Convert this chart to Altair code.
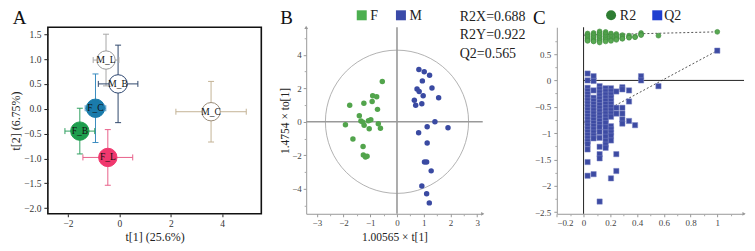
import altair as alt
import pandas as pd

FONT = "Liberation Serif"

# ---------------- Panel A data ----------------
A_GROUPS = ["M_L", "M_B", "F_C", "F_B", "F_L", "M_C"]
A_X = [-0.52, -0.05, -0.93, -1.54, -0.45, 3.57]
A_Y = [0.98, 0.50, 0.01, -0.45, -0.98, -0.06]
A_EX = [0.50, 0.77, 0.40, 0.58, 0.97, 1.37]
A_EY = [0.52, 0.78, 0.69, 0.46, 0.56, 0.61]
A_FILL = ["#ffffff", "#ffffff", "#1a7bab", "#1e9e4e", "#f0386e", "#ffffff"]
A_STROKE = ["#9a9a9a", "#2d4670", "#1a7bab", "#1e9e4e", "#f0386e", "#9a8c78"]
A_BAR = ["#a8a8a8", "#30486c", "#3a8cc0", "#30a060", "#e8608a", "#c4b496"]

# ---------------- Panel B data ----------------
F_X = [-0.55, -0.91, -0.76, -0.93, -1.24, -1.77, -0.73, -1.41, -1.35, -1.28, -1.07,
       -0.98, -1.23, -1.93, -0.70, -1.04, -0.62, -1.65, -1.27, -1.26, -1.18, -1.12]
F_Y = [2.40, 1.55, 1.49, 1.21, 1.11, 0.98, 0.74, 0.36, 0.04, -0.02, 0.06,
       0.12, -0.21, -0.18, -0.12, -0.42, -0.39, -1.03, -1.47, -1.98, -2.10, -2.06]
M_X = [0.82, 1.02, 1.22, 0.95, 1.31, 0.75, 0.83, 0.98, 1.56, 0.65, 0.93, 0.70,
       1.42, 1.13, 1.91, 0.81, 1.13, 1.03, 1.11, 1.28, 0.93, 1.11, 1.21]
M_Y = [3.12, 2.98, 2.78, 2.44, 2.02, 1.95, 1.81, 1.55, 1.43, 1.29, 1.07, 0.98,
       0.0, -0.30, -0.36, -0.65, -1.27, -2.40, -2.40, -2.93, -3.83, -4.29, -4.84]
STATS = ["R2X=0.688", "R2Y=0.922", "Q2=0.565"]
B_MINOR_X = [-2.5, -1.5, -0.5, 0.5, 1.5, 2.5]
B_MINOR_Y = [-5, -3, -1, 1, 3, 5]

# ---------------- Panel C data ----------------
C_X = [0.03, 0.075, 0.12, 0.165, 0.205, 0.245, 0.29, 0.34, 0.385, 0.43, 0.56, 1.0]
R2_COLS = [
    [0.89, 0.86, 0.83, 0.80, 0.77, 0.75],
    [0.90, 0.87, 0.84, 0.81, 0.78, 0.75, 0.74],
    [0.93, 0.90, 0.87, 0.84, 0.81, 0.78, 0.75, 0.72],
    [0.92, 0.89, 0.86, 0.83, 0.80, 0.77, 0.74],
    [0.89, 0.86, 0.83, 0.80, 0.77, 0.75],
    [0.88, 0.85, 0.82, 0.79, 0.77],
    [0.86, 0.83, 0.80, 0.79],
    [0.85, 0.82, 0.81],
    [0.83, 0.82],
    [0.90, 0.87, 0.86],
    [0.85],
    [0.922],
]
Q2_COLS = [
    [0.13, 0.0, -0.14, -0.2, -0.26, -0.32, -0.38, -0.44, -0.5, -0.56, -0.62, -0.68,
     -0.74, -0.8, -0.86, -0.92, -0.98, -1.04, -1.1, -1.16, -1.21, -1.31, -1.55, -1.81],
    [0.08, -0.01, -0.19, -0.33, -0.39, -0.45, -0.51, -0.57, -0.63, -0.69, -0.75,
     -0.81, -0.87, -0.93, -0.99, -1.05, -1.1, -1.78],
    [-0.11, -0.17, -0.23, -0.29, -0.35, -0.41, -0.47, -0.53, -0.59, -0.65, -0.71,
     -0.77, -0.83, -0.89, -0.98, -1.09, -1.26, -1.40, -1.48, -2.30],
    [-0.15, -0.21, -0.27, -0.33, -0.39, -0.45, -0.51, -0.57, -0.63, -0.69, -0.75,
     -0.81, -0.89, -0.99, -1.07, -1.15, -1.22, -1.28],
    [-0.15, -0.21, -0.27, -0.33, -0.39, -0.45, -0.51, -0.57, -0.63, -0.69, -0.87,
     -0.93, -0.99, -1.05, -1.14, -1.86],
    [-0.21, -0.52, -0.63, -1.40, -1.72],
    [-0.13, -0.17, -0.52, -0.63, -0.74, -0.82],
    [-0.19, -0.40, -0.77],
    [-0.85],
    [0.08, 0.0],
    [-0.11],
    [0.565],
]
REG_X = [0.0, 1.0]
R2_LINE = [0.86, 0.922]
Q2_LINE = [-0.80, 0.565]
C_MINOR_X = [-0.1, 0.1, 0.3, 0.5, 0.7, 0.9, 1.1]
C_MINOR_Y = [-2.25, -1.75, -1.25, -0.75, -0.25, 0.25, 0.75]

H = 187
one = pd.DataFrame({"k": [0]})

# ================= Panel A =================
W_A = 214
dfA = pd.DataFrame({"g": A_GROUPS, "cx": A_X, "cy": A_Y, "ex": A_EX, "ey": A_EY})
dfA["xlo"] = dfA.cx - dfA.ex
dfA["xhi"] = dfA.cx + dfA.ex
dfA["ylo"] = dfA.cy - dfA.ey
dfA["yhi"] = dfA.cy + dfA.ey

xsA = alt.Scale(domain=[-2.784, 5.526], nice=False, zero=False)
ysA = alt.Scale(domain=[-2.114, 1.64], nice=False, zero=False)
barScale = alt.Scale(domain=A_GROUPS, range=A_BAR)
fillScale = alt.Scale(domain=A_GROUPS, range=A_FILL)
strokeScale = alt.Scale(domain=A_GROUPS, range=A_STROKE)

axA_x = alt.Axis(values=[-2, 0, 2, 4], format="d", title="t[1] (25.6%)", domain=False,
                 tickColor="#222", tickSize=3, labelPadding=2, titlePadding=3,
                 labelFontSize=9.5, titleFontSize=12, labelColor="#333", titleColor="#222")
axA_y = alt.Axis(values=[-2, -1.5, -1, -0.5, 0, 0.5, 1, 1.5], format=".1f", title="t[2] (6.75%)",
                 domain=False, tickColor="#222", tickSize=4, labelPadding=3, titlePadding=1,
                 labelFontSize=9.5, titleFontSize=12, labelColor="#333", titleColor="#222")


def XA(f):
    return alt.X(f"{f}:Q", scale=xsA, axis=axA_x, title="t[1] (25.6%)")


def YA(f):
    return alt.Y(f"{f}:Q", scale=ysA, axis=axA_y, title="t[2] (6.75%)")


baseA = alt.Chart(dfA)
vbars = baseA.mark_rule(strokeWidth=1).encode(
    x=XA("cx"), y=YA("ylo"), y2="yhi:Q",
    color=alt.Color("g:N", scale=barScale, legend=None),
)
hbars = baseA.mark_rule(strokeWidth=1).encode(
    x=XA("xlo"), x2="xhi:Q", y=YA("cy"),
    color=alt.Color("g:N", scale=barScale, legend=None),
)
HCAP = "M -1 0 L 1 0"
VCAP = "M 0 -1 L 0 1"
caps = []
for xf, yf, shp in [("cx", "ylo", HCAP), ("cx", "yhi", HCAP), ("xlo", "cy", VCAP), ("xhi", "cy", VCAP)]:
    caps.append(baseA.mark_point(shape=shp, size=36, filled=False, strokeWidth=1, opacity=1).encode(
        x=XA(xf), y=YA(yf),
        color=alt.Color("g:N", scale=barScale, legend=None),
    ))
circlesA = baseA.mark_circle(size=340, opacity=1, strokeWidth=1).encode(
    x=XA("cx"), y=YA("cy"),
    fill=alt.Fill("g:N", scale=fillScale, legend=None),
    stroke=alt.Stroke("g:N", scale=strokeScale, legend=None),
)
labelsA = baseA.mark_text(font=FONT, fontSize=9.5, color="#111").encode(
    x=XA("cx"), y=YA("cy"), text="g:N",
)
letterA = alt.Chart(one).mark_text(text="A", font=FONT, fontSize=19, align="left",
                                   baseline="alphabetic", color="#111").encode(
    x=alt.value(-35.3), y=alt.value(-3.3))
anchorA = alt.Chart(one).mark_rule(opacity=0, strokeWidth=0).encode(
    x=alt.value(-47), x2=alt.value(-47), y=alt.value(-26), y2=alt.value(-26))

chartA = alt.layer(vbars, hbars, *caps, circlesA, labelsA, letterA, anchorA).properties(
    width=W_A, height=H, view=alt.ViewBackground(stroke="#111", strokeWidth=1.6))

# ================= Panel B =================
W_B = 177
dfB = pd.DataFrame({
    "x": F_X + M_X,
    "y": F_Y + M_Y,
    "grp": ["F"] * len(F_X) + ["M"] * len(M_X),
})
B_XD = [-3.40, 3.21]
B_YD = [-5.49, 5.64]
xsB = alt.Scale(domain=B_XD, nice=False, zero=False)
ysB = alt.Scale(domain=B_YD, nice=False, zero=False)
grpScale = alt.Scale(domain=["F", "M"], range=["#52a44c", "#3a4aa2"])
axB_x = alt.Axis(values=[-3, -2, -1, 0, 1, 2, 3], format="d", title="1.00565 × t[1]", orient="bottom",
                 domainColor="#999", tickColor="#999", tickSize=3, labelPadding=2, titlePadding=4,
                 labelFontSize=9, titleFontSize=11.5, labelColor="#444", titleColor="#222")
axB_y = alt.Axis(values=[-4, -2, 0, 2, 4], format="d", title="1.4754 × to[1]", orient="left",
                 domainColor="#999", tickColor="#999", tickSize=3, labelPadding=2, titlePadding=1,
                 labelFontSize=9, titleFontSize=11.5, labelColor="#444", titleColor="#222")
axB_xm = alt.Axis(values=B_MINOR_X, labels=False, domain=False, title="", orient="bottom",
                  tickColor="#aaa", tickSize=2)
axB_ym = alt.Axis(values=B_MINOR_Y, labels=False, domain=False, title="", orient="left",
                  tickColor="#aaa", tickSize=2)


def XB(f):
    return alt.X(f"{f}:Q", scale=xsB, axis=axB_x, title="1.00565 × t[1]")


def YB(f):
    return alt.Y(f"{f}:Q", scale=ysB, axis=axB_y, title="1.4754 × to[1]")


ellipse = alt.Chart(one).mark_point(shape="circle", size=20612, filled=False,
                                    stroke="#777", strokeWidth=0.8).encode(x=XB("k"), y=YB("k"))
vline = alt.Chart(one).mark_rule(color="#999", strokeWidth=1.6).encode(x=XB("k"))
hline = alt.Chart(one).mark_rule(color="#999", strokeWidth=1.6).encode(y=YB("k"))
ptsB = alt.Chart(dfB).mark_circle(size=30, opacity=1).encode(
    x=XB("x"), y=YB("y"),
    color=alt.Color("grp:N", scale=grpScale, legend=None),
)
dfBarrow = pd.DataFrame({"ax": [B_XD[1], B_XD[0]], "ay": [B_YD[0], B_YD[1]],
                         "sh": ["triangle-right", "triangle-up"]})
arrowsB = alt.Chart(dfBarrow).mark_point(size=14, filled=True, color="#999", opacity=1).encode(
    x=XB("ax"), y=YB("ay"),
    shape=alt.Shape("sh:N", scale=alt.Scale(domain=["triangle-right", "triangle-up"],
                                            range=["triangle-right", "triangle-up"]), legend=None))
legB = []
for lx, lab, colr in [(55.7, "F", "#4caf50"), (95, "M", "#3a4aa8")]:
    legB.append(alt.Chart(one).mark_point(shape="square", size=100, filled=True, color=colr, opacity=1).encode(
        x=alt.value(lx), y=alt.value(-12)))
    legB.append(alt.Chart(one).mark_text(text=lab, font=FONT, fontSize=14, align="left",
                                         baseline="middle", color="#222").encode(
        x=alt.value(lx + 8.5), y=alt.value(-11)))
statsB = alt.Chart(one).mark_text(text=STATS, font=FONT, fontSize=14, align="left",
                                  baseline="alphabetic", lineHeight=18.4, color="#222").encode(
    x=alt.value(154), y=alt.value(-6.4))
letterB = alt.Chart(one).mark_text(text="B", font=FONT, fontSize=19, align="left",
                                   baseline="alphabetic", color="#111").encode(
    x=alt.value(-26), y=alt.value(-3.3))
minorB = alt.Chart(one).mark_point(opacity=0, size=1).encode(
    x=alt.X("k:Q", scale=xsB, axis=axB_xm, title=""),
    y=alt.Y("k:Q", scale=ysB, axis=axB_ym, title=""))

mainB = alt.layer(ellipse, vline, hline, ptsB, arrowsB, *legB, statsB, letterB)
chartB = alt.layer(mainB, minorB).resolve_axis(x="independent", y="independent").properties(
    width=W_B, height=H)

# ================= Panel C =================
W_C = 217
C_OFF = 29.3
C_XD = [-0.2, 1.2]
C_YD = [-2.532, 1.009]
xsC = alt.Scale(domain=C_XD, range=[C_OFF, W_C], nice=False, zero=False)
ysC = alt.Scale(domain=C_YD, nice=False, zero=False)

r2_rows = [(x, v) for x, col in zip(C_X, R2_COLS) for v in col]
q2_rows = [(x, v) for x, col in zip(C_X, Q2_COLS) for v in col]
dfR2 = pd.DataFrame(r2_rows, columns=["x", "v"])
dfQ2 = pd.DataFrame(q2_rows, columns=["x", "v"])
dfReg = pd.DataFrame({"x": REG_X * 2, "v": R2_LINE + Q2_LINE, "s": ["R2"] * 2 + ["Q2"] * 2})
dfCaxes = pd.DataFrame({"x0": [0.0], "x1": [C_XD[1]], "y0": [0.0],
                        "xa": [C_XD[1]], "ya": [C_YD[0]]})

axC_x = alt.Axis(values=[-0.2, 0, 0.2, 0.4, 0.6, 0.8, 1], format="~g", title="", orient="bottom",
                 domainColor="#999", tickColor="#999", tickSize=3, labelPadding=2,
                 labelFontSize=9, labelColor="#444")
axC_y = alt.Axis(values=[-2.5, -2, -1.5, -1, -0.5, 0, 0.5], format="~g", title="", offset=-C_OFF,
                 orient="left", domainColor="#999", tickColor="#999", tickSize=3, labelPadding=3,
                 labelFontSize=9, labelColor="#444")
axC_xm = alt.Axis(values=C_MINOR_X, labels=False, domain=False, title="", orient="bottom",
                  tickColor="#aaa", tickSize=2)
axC_ym = alt.Axis(values=C_MINOR_Y, labels=False, domain=False, title="", orient="left",
                  offset=-C_OFF, tickColor="#aaa", tickSize=2)


def XC(f):
    return alt.X(f"{f}:Q", scale=xsC, axis=axC_x, title="")


def YC(f):
    return alt.Y(f"{f}:Q", scale=ysC, axis=axC_y, title="")


regLines = alt.Chart(dfReg).mark_line(strokeDash=[2, 2], strokeWidth=1, color="#555").encode(
    x=XC("x"), y=YC("v"), detail="s:N")
vlineC = alt.Chart(dfCaxes).mark_rule(color="#222", strokeWidth=1).encode(x=XC("x0"))
hlineC = alt.Chart(dfCaxes).mark_rule(color="#222", strokeWidth=1).encode(
    x=XC("x0"), x2="x1:Q", y=YC("y0"))
r2pts = alt.Chart(dfR2).mark_point(shape="circle", size=24, filled=True, fill="#58a852",
                                   stroke="#3d8a3a", strokeWidth=0.6, opacity=1).encode(
    x=XC("x"), y=YC("v"))
q2pts = alt.Chart(dfQ2).mark_point(shape="square", size=28, filled=True, fill="#3d4ba3",
                                   stroke="#7a84c4", strokeWidth=0.5, opacity=1).encode(
    x=XC("x"), y=YC("v"))
arrowCx = alt.Chart(dfCaxes).mark_point(shape="triangle-right", size=14, filled=True,
                                        color="#999", opacity=1).encode(x=XC("xa"), y=YC("ya"))
legC = [
    alt.Chart(one).mark_point(shape="circle", size=100, filled=True, color="#2e7d32", opacity=1).encode(
        x=alt.value(83.7), y=alt.value(-12)),
    alt.Chart(one).mark_text(text="R2", font=FONT, fontSize=14, align="left", baseline="middle",
                             color="#222").encode(x=alt.value(92.5), y=alt.value(-11)),
    alt.Chart(one).mark_point(shape="square", size=100, filled=True, color="#1f3fd0", opacity=1).encode(
        x=alt.value(130), y=alt.value(-12)),
    alt.Chart(one).mark_text(text="Q2", font=FONT, fontSize=14, align="left", baseline="middle",
                             color="#222").encode(x=alt.value(137), y=alt.value(-11)),
]
letterC = alt.Chart(one).mark_text(text="C", font=FONT, fontSize=19, align="left",
                                   baseline="alphabetic", color="#111").encode(
    x=alt.value(5.3), y=alt.value(-3.3))
anchorC = alt.Chart(one).mark_rule(opacity=0, strokeWidth=0).encode(
    x=alt.value(227), x2=alt.value(227), y=alt.value(225), y2=alt.value(225))
minorC = alt.Chart(one).mark_point(opacity=0, size=1).encode(
    x=alt.X("k:Q", scale=xsC, axis=axC_xm, title=""),
    y=alt.Y("k:Q", scale=ysC, axis=axC_ym, title=""))

mainC = alt.layer(regLines, vlineC, hlineC, r2pts, q2pts, arrowCx, *legC, letterC, anchorC)
chartC = alt.layer(mainC, minorC).resolve_axis(x="independent", y="independent").properties(
    width=W_C, height=H)

chart = alt.hconcat(chartA, chartB, chartC, spacing=45, bounds="flush").resolve_scale(
    color="independent", fill="independent", stroke="independent", shape="independent"
).properties(
    padding=0
).configure(font=FONT).configure_axis(
    grid=False, labelFont=FONT, titleFont=FONT, titleFontWeight="normal"
).configure_view(stroke="transparent")

chart.save("out.html", embed_options={"renderer": "svg", "actions": False})
